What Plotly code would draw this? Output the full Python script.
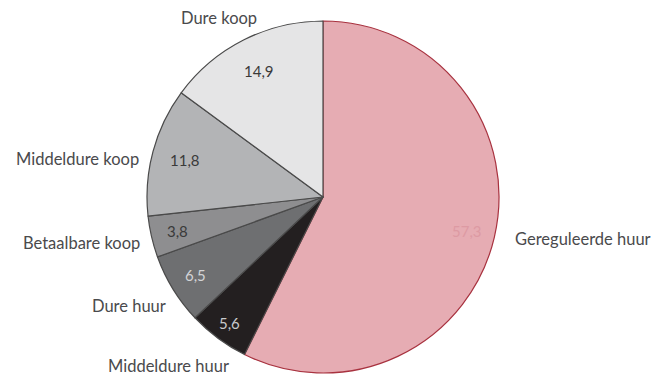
import math
import plotly.graph_objects as go

categories = ["Gereguleerde huur", "Middeldure huur", "Dure huur", "Betaalbare koop", "Middeldure koop", "Dure koop"]
values = [57.3, 5.6, 6.5, 3.8, 11.8, 14.9]
value_labels = ["57,3", "5,6", "6,5", "3,8", "11,8", "14,9"]

colors = ["#E6ACB3", "#231F20", "#6E6F71", "#8E8E90", "#B3B4B6", "#E5E5E6"]
line_colors = ["#A8323F", "#4A4A4A", "#4A4A4A", "#4A4A4A", "#4A4A4A", "#4A4A4A"]
text_colors = ["#DD9AA3", "#C9CACC", "#D3D4D6", "#3A3A3A", "#3A3A3A", "#3A3A3A"]

W, H = 663, 378
cx, cy, r = 323, 197, 176

fig = go.Figure(go.Pie(
    labels=categories,
    values=values,
    textinfo="none",
    sort=False,
    direction="clockwise",
    rotation=0,
    marker=dict(colors=colors, line=dict(color=line_colors, width=1.2)),
    showlegend=False,
    hoverinfo="label+value",
    domain=dict(x=[(cx - r) / W, (cx + r) / W], y=[(H - cy - r) / H, (H - cy + r) / H]),
))

# value labels at each slice's mid-angle (radial fraction per slice)
radial = {
    "Gereguleerde huur": 0.84, "Middeldure huur": 0.89, "Dure huur": 0.85,
    "Betaalbare koop": 0.85, "Middeldure koop": 0.81, "Dure koop": 0.80,
}
total = sum(values)
cum = 0.0
for name, v, txt, tc in zip(categories, values, value_labels, text_colors):
    mid = (cum + v / 2) / total * 2 * math.pi
    cum += v
    rr = radial[name] * r
    px = cx + rr * math.sin(mid)
    py = cy - rr * math.cos(mid)
    fig.add_annotation(
        x=px / W, y=1 - py / H, xref="paper", yref="paper",
        text=txt, showarrow=False, xanchor="center", yanchor="middle",
        font=dict(family="Lato", size=15, color=tc),
    )

label_pos = {
    "Dure koop": (219, 18),
    "Middeldure koop": (77, 159),
    "Betaalbare koop": (81, 243),
    "Dure huur": (129, 306),
    "Middeldure huur": (168, 366),
    "Gereguleerde huur": (583, 239),
}
for name in categories:
    px, py = label_pos[name]
    fig.add_annotation(
        x=px / W, y=1 - py / H, xref="paper", yref="paper",
        text=name, showarrow=False, xanchor="center", yanchor="middle",
        font=dict(family="Lato", size=16.5, color="#4A4A4C"),
    )

fig.update_layout(
    width=W, height=H,
    margin=dict(l=0, r=0, t=0, b=0),
    paper_bgcolor="white",
    plot_bgcolor="white",
)

fig.write_html("out.html")
